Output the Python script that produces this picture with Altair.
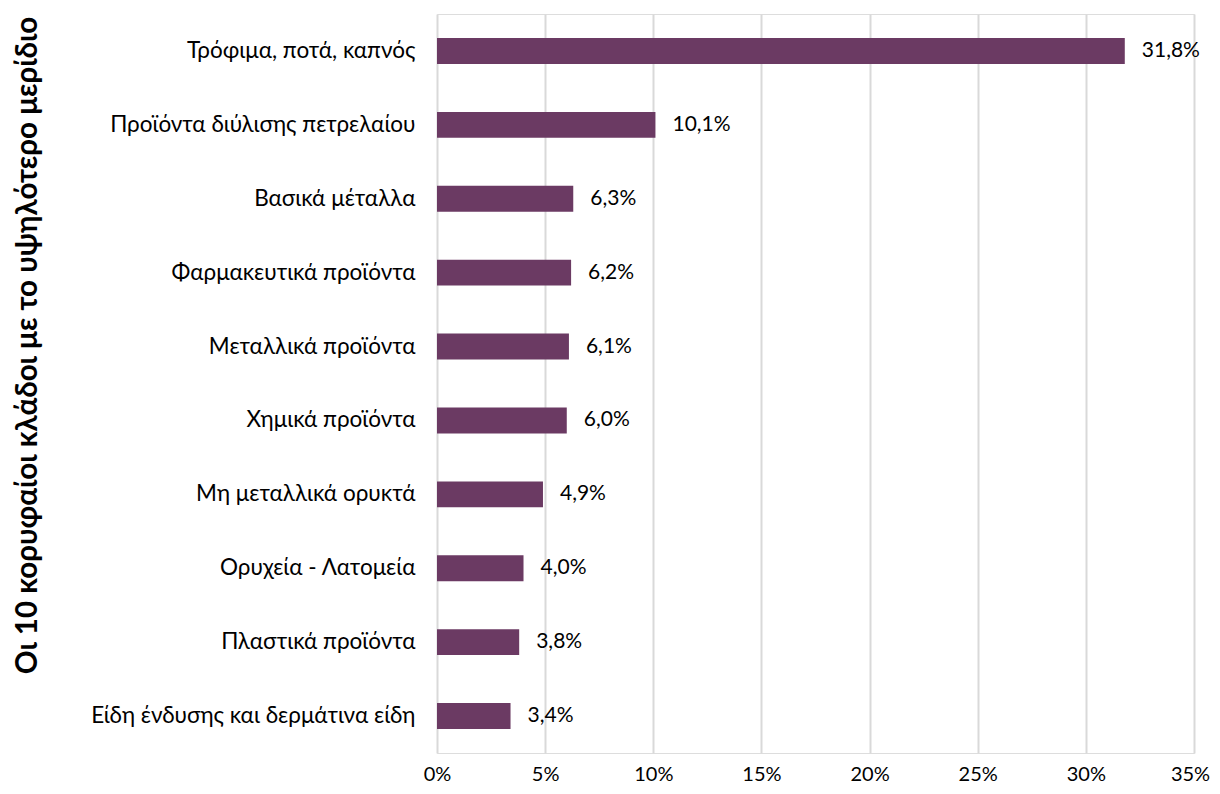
import altair as alt
import pandas as pd

categories = [
    "Τρόφιμα, ποτά, καπνός",
    "Προϊόντα διύλισης πετρελαίου",
    "Βασικά μέταλλα",
    "Φαρμακευτικά προϊόντα",
    "Μεταλλικά προϊόντα",
    "Χημικά προϊόντα",
    "Μη μεταλλικά ορυκτά",
    "Ορυχεία - Λατομεία",
    "Πλαστικά προϊόντα",
    "Είδη ένδυσης και δερμάτινα είδη",
]
shares = [31.8, 10.1, 6.3, 6.2, 6.1, 6.0, 4.9, 4.0, 3.8, 3.4]
tick_values = [0, 5, 10, 15, 20, 25, 30, 35]

df = pd.DataFrame({
    "cat": categories,
    "share": shares,
    "label": [f"{v:.1f}%".replace(".", ",") for v in shares],
})

FONT = "Lato"
COLOR = "#6B3A63"

base = alt.Chart(df).encode(
    y=alt.Y(
        "cat:N",
        sort=categories,
        scale=alt.Scale(paddingInner=0.649, paddingOuter=0.3245),
        axis=alt.Axis(
            title="Οι 10 κορυφαίοι κλάδοι με το υψηλότερο μερίδιο",
            titleFont=FONT,
            titleFontSize=29.5,
            titleFontWeight="bold",
            titleColor="#000000",
            titleAngle=270,
            titleAlign="center",
            titleBaseline="middle",
            titleX=-410,
            titleY=331,
            labelFont=FONT,
            labelFontSize=22.5,
            labelColor="#000000",
            labelPadding=22,
            labelLimit=500,
            ticks=False,
            domain=False,
            grid=False,
        ),
    )
)

bars = base.mark_bar(color=COLOR).encode(
    x=alt.X(
        "share:Q",
        scale=alt.Scale(domain=[0, 35], nice=False),
        axis=alt.Axis(
            title=None,
            values=tick_values,
            labelExpr="datum.value + '%'",
            labelFont=FONT,
            labelFontSize=20,
            labelColor="#000000",
            labelPadding=11,
            labelFlush=False,
            labelOffset=alt.condition("datum.value == 35", alt.value(-4), alt.value(0)),
            ticks=False,
            domain=False,
            grid=True,
            gridColor="#D9D9D9",
            gridWidth=2,
        ),
    )
)

texts = base.mark_text(
    align="left", dx=17, font=FONT, fontSize=21, color="#000000"
).encode(x="share:Q", text="label:N")

chart = (
    (bars + texts)
    .properties(
        width=757,
        height=739,
        autosize=alt.AutoSizeParams(type="none"),
        padding={"left": 429, "top": 6, "right": 18, "bottom": 33},
    )
    .configure_view(stroke=None)
    .configure(background="#FFFFFF")
)

chart.save("out.html", embed_options={"renderer": "svg", "actions": False})
